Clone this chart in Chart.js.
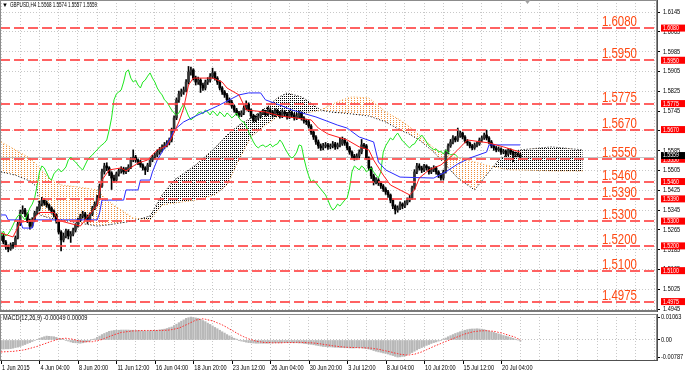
<!DOCTYPE html>
<html>
<head>
<meta charset="utf-8">
<title>GBPUSD H4</title>
<script src="https://cdn.jsdelivr.net/npm/chart.js@4.4.1/dist/chart.umd.min.js"></script>
<style>
  html, body { margin: 0; padding: 0; background: #fff; }
  #wrap { width: 685px; height: 374px; overflow: hidden; }
  canvas { display: block; }
</style>
</head>
<body>
<div id="wrap">
  <canvas id="mainChart" width="685" height="312"></canvas>
  <canvas id="macdChart" width="685" height="62"></canvas>
</div>
<script>
// ---- GBPUSD H4 candles, in pips above 1.5000 (price = 1.5 + v / 10000) ----
const opens = [
  232,240,216,196,188,204,200,232,289,337, 345,329,301,280,305,333,349,369,385,373,
  365,353,341,325,301,256,224,240,260,240, 248,264,284,305,321,329,317,305,329,353,
  369,394,442,499,523,515,495,474,466,491, 503,511,499,507,519,547,559,547,539,527,
  515,507,527,547,559,567,579,588,600,608, 616,628,668,717,790,814,822,830,862,903,
  911,878,862,870,850,838,862,870,886,899, 878,862,838,822,810,790,781,765,749,737,
  729,737,757,773,749,725,709,717,725,737, 741,733,749,741,729,745,737,725,741,733,
  721,737,729,717,725,737,717,705,701,684, 660,640,620,604,596,604,608,600,604,612,
  600,608,612,628,616,596,579,563,555,563, 579,608,604,555,515,483,458,466,454,442,
  430,418,406,385,361,345,353,369,361,373, 385,394,434,499,523,515,507,523,515,499,
  507,515,499,486,474,499,579,604,620,636, 628,644,656,640,624,616,604,596,608,612,
  628,636,648,636,620,604,596,588,592,579, 583,571,588,579,567,571,568
];
const highs = [
  252,248,222,204,212,214,240,296,345,362, 352,334,308,314,340,358,380,396,392,382,
  370,358,346,330,306,262,252,268,266,258, 272,290,312,328,340,336,324,334,360,378,
  404,450,510,534,536,520,500,486,498,512, 520,518,516,528,556,588,566,552,546,532,
  520,534,554,566,576,588,598,608,618,626, 636,676,726,798,826,834,842,872,925,922,
  916,886,882,876,858,870,880,896,918,904, 884,868,844,828,816,798,788,770,756,744,
  746,766,786,778,754,732,726,734,744,752, 748,760,758,748,754,752,744,750,748,740,
  746,744,736,736,746,742,722,712,708,690, 666,646,628,612,614,618,614,612,622,618,
  616,636,640,634,620,602,584,570,572,588, 630,614,610,560,520,490,476,472,460,448,
  436,424,410,390,366,362,378,374,382,394, 404,442,508,534,532,522,530,528,520,516,
  524,520,504,492,506,588,612,630,646,642, 676,664,660,646,630,620,610,616,620,636,
  644,656,668,642,626,610,602,600,596,590, 588,594,592,584,578,576,574
];
const lows = [
  222,208,186,176,182,190,196,228,282,330, 318,294,268,274,298,326,342,362,364,356,
  344,332,316,292,248,180,216,232,228,214, 240,256,276,298,312,306,290,298,322,346,
  362,388,436,490,504,484,428,456,460,482, 494,490,492,500,512,540,538,528,518,506,
  488,500,520,540,550,560,570,580,592,600, 608,620,660,710,780,804,812,822,854,890,
  870,850,852,820,828,830,852,862,878,870, 852,830,812,800,780,770,756,740,728,720,
  722,730,750,742,716,700,702,710,718,730, 724,726,732,720,722,728,716,718,724,712,
  714,720,708,710,718,708,696,690,676,650, 630,610,594,586,588,596,590,592,596,590,
  592,600,606,606,588,570,554,546,548,556, 572,594,548,506,472,446,450,444,432,420,
  408,396,374,350,329,336,346,350,354,366, 378,388,428,492,506,496,500,506,490,492,
  500,490,476,466,466,494,572,598,612,620, 622,638,632,616,606,596,588,590,600,606,
  620,630,628,612,596,586,580,582,570,572, 562,564,570,540,560,562,557
];
const closes = [
  240,216,196,188,204,200,232,289,337,345, 329,301,280,305,333,349,369,385,373,365,
  353,341,325,301,256,224,240,260,240,248, 264,284,305,321,329,317,305,329,353,369,
  394,442,499,523,515,495,474,466,491,503, 511,499,507,519,547,559,547,539,527,515,
  507,527,547,559,567,579,588,600,608,616, 628,668,717,790,814,822,830,862,903,911,
  878,862,870,850,838,862,870,886,899,878, 862,838,822,810,790,781,765,749,737,729,
  737,757,773,749,725,709,717,725,737,741, 733,749,741,729,745,737,725,741,733,721,
  737,729,717,725,737,717,705,701,684,660, 640,620,604,596,604,608,600,604,612,600,
  608,612,628,616,596,579,563,555,563,579, 608,604,555,515,483,458,466,454,442,430,
  418,406,385,361,345,353,369,361,373,385, 394,434,499,523,515,507,523,515,499,507,
  515,499,486,474,499,579,604,620,636,628, 644,656,640,624,616,604,596,608,612,628,
  636,648,636,620,604,596,588,592,579,583, 571,588,579,567,571,568,559
];

// ---- Ichimoku lines (bar index, pips) ----
const tenkanIdx = [0,5,8,13,16,22,24,27,33,36, 40,42,45,50,52,57,61,65,69,71, 74,76,78,80,88,92,94,99,102,110,
  116,129,132,136,144,149,153,155,159,162, 166,170,172,174,178,183,187,190,194,203, 209,216];
const tenkanVal = [252,236,295,303,335,335,303,295,280,317, 365,466,507,515,503,535,547,588,604,636, 701,757,850,878,878,862,838,810,749,741,
  725,709,676,652,628,600,588,547,486,446, 426,406,426,474,507,527,559,588,628,616, 600,579];
const kijunIdx = [0,2,3,8,9,13,14,40,41,42, 51,52,57,58,62,63,65,67,70,72, 76,81,90,95,99,103,108,110,116,121,
  131,140,144,149,155,157,160,166,180,185, 190,195,202,203,216];
const kijunVal = [325,325,305,305,272,272,305,305,333,385, 385,426,426,466,466,499,547,579,628,668, 701,725,765,790,810,818,818,790,769,749,
  721,688,676,640,620,539,507,478,474,499, 531,555,579,608,608];
// kumo, already shifted 26 bars ahead
const cloudIdx = [0,6,12,15,16,20,25,32,40,44, 50,55,62,67,72,81,89,94,99,104, 110,115,119,125,127,133,137,142,146,153,
  160,166,169,174,180,185,190,197,203,207, 212,216,229,242];
const spanA = [620,588,555,527,515,474,446,438,426,385, 345,313,305,365,373,385,406,446,547,640, 688,721,725,733,737,749,769,790,802,798,
  741,709,688,648,596,567,555,539,523,515, 507,507,503,503];
const spanB = [499,486,462,438,325,313,305,293,280,284, 293,301,321,406,466,527,596,648,688,717, 757,798,818,802,790,749,741,737,733,725,
  701,668,656,628,579,527,474,426,499,547, 579,588,600,588];
const chikouShift = 26;

// ---- MACD(12,26,9), units of 0.0001 ----
const macdMain = [
  -42,-42,-41,-41,-40,-38,-35,-33,-30,-25, -21,-16,-12,-7,-2,3,8,11,15,18,
  17,16,15,12,8,5,2,-2,-5,-9, -12,-13,-14,-15,-13,-10,-8,-4,1,5,
  12,18,25,30,35,40,42,44,45,45, 46,46,46,46,45,45,44,44,43,42,
  42,42,43,43,44,45,47,48,50,53, 57,60,67,73,80,87,93,100,103,106,
  104,102,100,95,90,85,78,72,65,58, 52,45,38,32,25,19,14,8,4,-1,
  -5,-7,-10,-12,-13,-14,-15,-15,-15,-15, -15,-15,-14,-14,-13,-13,-13,-12,-12,-12,
  -12,-12,-13,-13,-14,-14,-16,-17,-19,-20, -22,-24,-26,-28,-30,-31,-32,-32,-33,-34,
  -34,-35,-35,-36,-36,-37,-37,-37,-36,-36, -36,-38,-40,-42,-45,-49,-52,-55,-57,-60,
  -62,-65,-69,-72,-76,-79,-78,-76,-74,-69, -63,-58,-52,-46,-40,-35,-30,-25,-21,-16,
  -12,-9,-5,-2,4,9,15,20,25,30, 34,38,42,45,48,50,51,51,52,51,
  50,48,45,41,38,35,31,28,25,21, 18,15,11,8,4,0,-5
];
const macdSignal = [
  -55,-55,-54,-54,-53,-53,-51,-50,-48,-47, -45,-42,-39,-36,-33,-30,-26,-22,-18,-14,
  -10,-6,-3,1,5,6,7,8,6,5, 3,0,-3,-5,-8,-8,-8,-8,-8,-5,
  -3,0,2,7,11,16,20,24,28,31, 35,36,38,39,41,42,42,43,43,44,
  44,44,44,44,44,44,44,44,45,45, 46,48,50,53,55,60,65,70,75,81,
  86,92,94,96,98,96,93,91,88,84, 79,75,70,64,58,51,45,39,32,26,
  20,15,10,5,2,-2,-5,-7,-9,-11, -12,-12,-12,-13,-13,-13,-13,-13,-12,-12,
  -12,-12,-12,-11,-11,-11,-12,-12,-13,-13, -14,-15,-17,-18,-20,-22,-23,-25,-27,-28,
  -30,-31,-32,-33,-34,-34,-35,-35,-35,-36, -36,-36,-37,-37,-38,-40,-41,-43,-45,-48,
  -50,-53,-55,-58,-61,-63,-66,-67,-69,-70, -69,-67,-66,-62,-59,-55,-50,-45,-40,-35,
  -30,-25,-21,-16,-12,-7,-3,2,6,11, 15,19,24,28,31,34,37,39,40,42,
  42,43,43,42,41,40,38,35,33,30, 26,23,19,16,12,6,1
];

// ---- axes, levels, texts ----
const priceTicks = [1.6145,1.6065,1.5985,1.5905,1.5825,1.5745,1.5665,1.5585,1.5505,1.5425,1.5345,1.5265,1.5185,1.5105,1.5025,1.4945];
const levels = [1.6080,1.5950,1.5775,1.5670,1.5550,1.5460,1.5390,1.5300,1.5200,1.5100,1.4975];
const bidPrice = 1.5559;
const timeLabelIdx = [0,16,32,48,64,80,96,112,128,144,160,176,192,208];
const timeLabels = ['1 Jun 2015','4 Jun 04:00','8 Jun 20:00','11 Jun 12:00','16 Jun 04:00','18 Jun 20:00','23 Jun 12:00',
  '26 Jun 04:00','30 Jun 20:00','3 Jul 12:00','8 Jul 04:00','10 Jul 20:00','15 Jul 12:00','20 Jul 04:00'];
const macdTicks = [0.01063, 0, -0.00787];
const macdTickText = ['0.01063', '0.00', '-0.00787'];
const headerText = 'GBPUSD,H4 1.5568 1.5574 1.5557 1.5559';
const macdText = 'MACD(12,26,9) -0.00049 0.00009';

// ---- layout ----
const X_MIN = -0.416, X_MAX = 272.88;
const Y_MIN = 1.49329, Y_MAX = 1.61935;
const M_MIN = -0.00972, M_MAX = 0.012018;
const gridIdx = Array.from({length: 35}, (_, k) => k * 8);

const toP = v => 1.5 + v / 10000;
const toM = v => v / 10000;
const FONT = "'Liberation Sans', Arial, sans-serif";

function txt(ctx, s, x, y, size, color, align, base, sx) {
  ctx.save();
  ctx.translate(x, y);
  ctx.scale(sx, 1);
  ctx.font = size + 'px ' + FONT;
  ctx.fillStyle = color;
  ctx.textAlign = align;
  ctx.textBaseline = base;
  ctx.fillText(s, 0, 0);
  ctx.restore();
}

// dotted kumo like MT4 histogram dots
function dots(color, w, h) {
  const c = document.createElement('canvas');
  c.width = w; c.height = h;
  const g = c.getContext('2d');
  g.fillStyle = color;
  g.fillRect(0, 0, 1, 1);
  return g.createPattern(c, 'repeat');
}

const mainDecor = {
  id: 'mainDecor',
  beforeDatasetsDraw(chart) {
    const {ctx, chartArea: a, scales: {y}} = chart;
    const by = Math.round(y.getPixelForValue(bidPrice)) + 0.5;
    ctx.save();
    ctx.strokeStyle = '#c4c4c4';
    ctx.lineWidth = 1;
    ctx.beginPath(); ctx.moveTo(a.left, by); ctx.lineTo(a.right, by); ctx.stroke();
    ctx.restore();
  },
  afterDatasetsDraw(chart) {
    const {ctx, chartArea: a, scales: {y}} = chart;
    ctx.save();
    ctx.beginPath(); ctx.rect(a.left, a.top, a.width, a.height); ctx.clip();
    ctx.strokeStyle = 'rgba(255,70,70,0.85)';
    ctx.lineWidth = 2;
    ctx.setLineDash([10, 4]);
    levels.forEach(v => {
      const ly = Math.round(y.getPixelForValue(v));
      ctx.beginPath(); ctx.moveTo(a.left, ly); ctx.lineTo(a.right, ly); ctx.stroke();
    });
    ctx.setLineDash([]);
    levels.forEach(v => txt(ctx, v.toFixed(4), a.right - 20, y.getPixelForValue(v) - 2, 14, '#ff4a14', 'right', 'alphabetic', 0.82));
    ctx.restore();
  },
  afterDraw(chart) {
    const {ctx, chartArea: a, scales: {x, y}} = chart;
    ctx.save();
    ctx.strokeStyle = '#8c8c8c';
    ctx.lineWidth = 1;
    ctx.strokeRect(a.left + 0.5, a.top + 0.5, a.width - 1, a.height);
    ctx.fillStyle = '#7a7a7a';
    ctx.fillRect(a.left, a.bottom - 2, a.width + 1, 2);
    ctx.fillStyle = '#505050';
    ctx.fillRect(a.right, a.top, 1, a.height);
    priceTicks.forEach(v => txt(ctx, v.toFixed(4), a.right + 6, y.getPixelForValue(v), 7, '#000', 'left', 'middle', 0.8));
    levels.forEach(v => {
      const py = y.getPixelForValue(v);
      ctx.fillStyle = '#ff0000';
      ctx.fillRect(a.right + 4, py - 3.5, 24, 7);
      txt(ctx, v.toFixed(4), a.right + 6, py + 0.5, 6.5, '#fff', 'left', 'middle', 0.8);
    });
    const by = y.getPixelForValue(bidPrice);
    ctx.fillStyle = '#000';
    ctx.fillRect(a.right + 4, by - 5, 24, 7);
    txt(ctx, bidPrice.toFixed(4), a.right + 6, by - 1.5, 6.5, '#fff', 'left', 'middle', 0.8);
    txt(ctx, '\u25BC', a.left + 2, a.top + 5, 6, '#000', 'left', 'middle', 1);
    txt(ctx, headerText, a.left + 10, a.top + 5, 6.5, '#000', 'left', 'middle', 0.7);
    const sx = x.getPixelForValue(219);
    ctx.fillStyle = '#a0a0a0';
    ctx.beginPath(); ctx.moveTo(sx - 3, a.top); ctx.lineTo(sx + 3, a.top); ctx.lineTo(sx, a.top + 4); ctx.closePath(); ctx.fill();
    ctx.restore();
  }
};

const macdDecor = {
  id: 'macdDecor',
  afterDraw(chart) {
    const {ctx, chartArea: a, scales: {x, y}} = chart;
    ctx.save();
    ctx.strokeStyle = '#8c8c8c';
    ctx.lineWidth = 1;
    ctx.strokeRect(a.left + 0.5, a.top + 0.5, a.width - 1, a.height - 1);
    ctx.fillStyle = '#505050';
    ctx.fillRect(a.right, a.top, 1, a.height);
    ctx.fillRect(a.left, a.bottom - 1, a.width + 1, 1);
    macdTicks.forEach((v, k) => txt(ctx, macdTickText[k], a.right + 4, y.getPixelForValue(v), 7, '#000', 'left', 'middle', 0.8));
    txt(ctx, macdText, a.left + 3, a.top + 4, 7, '#000', 'left', 'middle', 0.8);
    timeLabelIdx.forEach((v, k) => {
      const px = x.getPixelForValue(v);
      ctx.fillStyle = '#000';
      ctx.fillRect(Math.round(px), a.bottom, 1, 3);
      txt(ctx, timeLabels[k], px + 1, a.bottom + 7, 7, '#000', 'left', 'middle', 0.8);
    });
    ctx.restore();
  }
};

const line = (data, color, order, extra) => Object.assign({
  type: 'line', data, borderColor: color, borderWidth: 1, pointRadius: 0, tension: 0, fill: false, order
}, extra || {});

const xScale = (h) => ({
  type: 'linear', min: X_MIN, max: X_MAX, offset: false,
  grid: {color: '#c8c8c8', drawTicks: false, offset: false},
  border: {display: false, dash: [1, 2]},
  ticks: {display: false},
  afterBuildTicks: s => { s.ticks = gridIdx.map(v => ({value: v})); },
  afterFit: s => { s.height = h; }
});

new Chart(document.getElementById('mainChart'), {
  type: 'line',
  data: {
    datasets: [
      line(cloudIdx.map((x, k) => ({x, y: toP(spanA[k])})), '#f39a38', 10,
        {borderDash: [1, 2], fill: {target: 1, above: dots('#f0903a', 3, 2), below: dots('#000', 2, 2)}}),
      line(cloudIdx.map((x, k) => ({x, y: toP(spanB[k])})), '#000', 9, {borderDash: [1, 2]}),
      {type: 'bar', data: lows.map((l, i) => ({x: i, y: [toP(l), toP(highs[i])]})),
        backgroundColor: '#000', barThickness: 1, grouped: false, order: 6},
      {type: 'bar', data: opens.map((o, i) => ({x: i, y: [toP(Math.min(o, closes[i])), toP(Math.max(o, closes[i]))]})),
        backgroundColor: c => closes[c.dataIndex] >= opens[c.dataIndex] ? '#333' : '#000',
        barThickness: 2, minBarLength: 1, grouped: false, order: 5},
      line(closes.slice(chikouShift).map((c, k) => ({x: k, y: toP(c)})), '#1ee61e', 4),
      line(kijunIdx.map((x, k) => ({x, y: toP(kijunVal[k])})), '#2a2aff', 3),
      line(tenkanIdx.map((x, k) => ({x, y: toP(tenkanVal[k])})), '#ff1a1a', 2)
    ]
  },
  options: {
    responsive: false, animation: false, devicePixelRatio: 1, events: [],
    layout: {padding: 0},
    plugins: {legend: {display: false}, tooltip: {enabled: false}},
    scales: {
      x: xScale(0),
      y: {
        type: 'linear', position: 'right', min: Y_MIN, max: Y_MAX,
        grid: {color: '#c8c8c8', drawTicks: true, tickLength: 3, tickColor: '#000'},
        border: {display: false, dash: [1, 2]},
        ticks: {display: false},
        afterBuildTicks: s => { s.ticks = priceTicks.map(v => ({value: v})); },
        afterFit: s => { s.width = 28; }
      }
    }
  },
  plugins: [mainDecor]
});

new Chart(document.getElementById('macdChart'), {
  type: 'line',
  data: {
    datasets: [
      line(macdSignal.map((v, i) => ({x: i, y: toM(v)})), '#ff2a2a', 1, {borderDash: [1.5, 1.5]}),
      {type: 'bar', data: macdMain.map((v, i) => ({x: i, y: toM(v)})),
        backgroundColor: '#b8b8b8', barThickness: 1.6, grouped: false, order: 2}
    ]
  },
  options: {
    responsive: false, animation: false, devicePixelRatio: 1, events: [],
    layout: {padding: {top: 2}},
    plugins: {legend: {display: false}, tooltip: {enabled: false}},
    scales: {
      x: xScale(13),
      y: {
        type: 'linear', position: 'right', min: M_MIN, max: M_MAX,
        grid: {color: c => (c.tick && c.tick.value === 0) ? '#c0c0c0' : 'rgba(0,0,0,0)', drawTicks: true, tickLength: 3, tickColor: '#000'},
        border: {display: false, dash: [1, 2]},
        ticks: {display: false},
        afterBuildTicks: s => { s.ticks = macdTicks.map(v => ({value: v})); },
        afterFit: s => { s.width = 28; }
      }
    }
  },
  plugins: [macdDecor]
});
</script>
</body>
</html>
